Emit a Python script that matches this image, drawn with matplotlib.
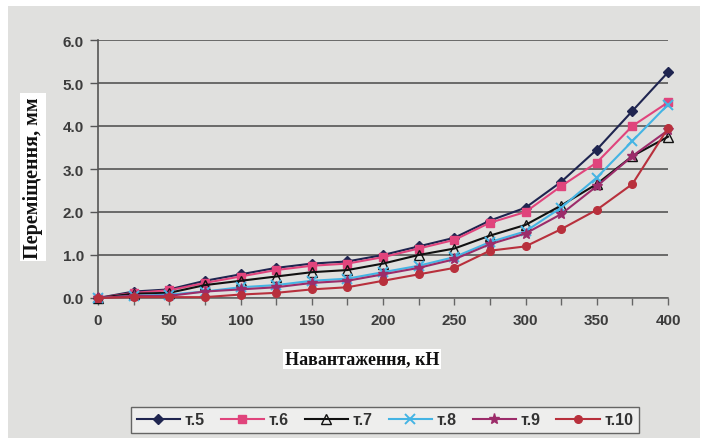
import matplotlib
matplotlib.use("Agg")
import matplotlib.pyplot as plt
from matplotlib.patches import Rectangle

# Load steps, kN
load = [0, 25, 50, 75, 100, 125, 150, 175, 200, 225, 250, 275, 300, 325, 350, 375, 400]

# Displacements at measuring points, mm
t5 = [0, 0.15, 0.20, 0.40, 0.55, 0.70, 0.80, 0.85, 1.00, 1.20, 1.40, 1.80, 2.10, 2.70, 3.45, 4.35, 5.25]
t6 = [0, 0.12, 0.18, 0.35, 0.50, 0.65, 0.75, 0.80, 0.95, 1.15, 1.35, 1.75, 2.00, 2.60, 3.15, 4.00, 4.55]
t7 = [0, 0.10, 0.12, 0.30, 0.40, 0.50, 0.60, 0.65, 0.80, 1.00, 1.15, 1.45, 1.70, 2.15, 2.65, 3.30, 3.75]
t8 = [0, 0.05, 0.08, 0.15, 0.25, 0.30, 0.40, 0.45, 0.60, 0.75, 0.95, 1.30, 1.55, 2.10, 2.80, 3.65, 4.50]
t9 = [0, 0.05, 0.05, 0.15, 0.20, 0.25, 0.35, 0.40, 0.55, 0.70, 0.90, 1.25, 1.50, 1.95, 2.60, 3.30, 3.90]
t10 = [0, 0.02, 0.02, 0.02, 0.08, 0.12, 0.20, 0.25, 0.40, 0.55, 0.70, 1.10, 1.20, 1.60, 2.05, 2.65, 3.95]

labels = ["т.5", "т.6", "т.7", "т.8", "т.9", "т.10"]
x_ticks = [0, 50, 100, 150, 200, 250, 300, 350, 400]
y_ticks = [0, 1, 2, 3, 4, 5, 6]

series = [t5, t6, t7, t8, t9, t10]
styles = [
    dict(color="#1f2550", marker="D", ms=5.5, mfc="#1f2550", mec="#1f2550"),
    dict(color="#e0447c", marker="s", ms=5.5, mfc="#e0447c", mec="#e0447c"),
    dict(color="#111111", marker="^", ms=6.5, mfc="none", mec="#111111"),
    dict(color="#44b4e4", marker="x", ms=6.5, mfc="none", mec="#44b4e4", mew=1.4),
    dict(color="#9c2c6a", marker="*", ms=8, mfc="#9c2c6a", mec="#9c2c6a"),
    dict(color="#b8303c", marker="o", ms=5.5, mfc="#b8303c", mec="#b8303c"),
]

fig = plt.figure(figsize=(7.09, 4.39), dpi=100)
fig.patch.set_facecolor("white")
# grey paper area
fig.patches.append(Rectangle((8 / 709, 0), 692 / 709, 432 / 439,
                             transform=fig.transFigure, facecolor="#e0e0de",
                             edgecolor="none", zorder=-10))

ax = fig.add_axes([98 / 709, 1 - 299 / 439, 570 / 709, 258 / 439])
ax.set_facecolor("none")

for data, lab, st in zip(series, labels, styles):
    ax.plot(load, data, lw=1.5, label=lab, **st, clip_on=False, zorder=3)

ax.set_xlim(0, 400)
ax.set_ylim(0, 6)
ax.set_xticks(x_ticks)
ax.set_xticks(range(0, 401, 25), minor=True)
ax.set_yticks(y_ticks)
ax.set_yticklabels([f"{v:.1f}" for v in y_ticks])
ax.grid(axis="y", color="#555555", lw=1.2)
ax.set_axisbelow(True)

for s in ["top", "right"]:
    ax.spines[s].set_visible(False)
ax.spines["left"].set_color("#555555")
ax.spines["left"].set_linewidth(1.2)
ax.spines["bottom"].set_color("#666666")
ax.spines["bottom"].set_linewidth(1.2)

ax.tick_params(axis="y", length=6, color="#555555", width=1.0, pad=4)
ax.tick_params(axis="x", which="both", length=5, color="#666666", width=1.0, direction="out")
ax.tick_params(axis="x", which="major", pad=6)
for lab in ax.get_xticklabels() + ax.get_yticklabels():
    lab.set_fontfamily("Liberation Sans")
    lab.set_fontweight("bold")
    lab.set_fontsize(11)
    lab.set_color("#3c3c3c")

fig.text(33 / 709, 1 - 178 / 439, "Переміщення, мм", rotation=90,
         ha="center", va="center", fontfamily="Liberation Serif",
         fontweight="bold", fontsize=14.5, color="#111111",
         bbox=dict(facecolor="white", edgecolor="none", pad=2))
fig.text(362 / 709, 1 - 360 / 439, "Навантаження, кН",
         ha="center", va="center", fontfamily="Liberation Serif",
         fontweight="bold", fontsize=13, color="#111111",
         bbox=dict(facecolor="white", edgecolor="none", pad=1))

leg = fig.legend(loc="center", bbox_to_anchor=(385 / 709, 1 - 421 / 439), ncol=6,
                 frameon=True, fancybox=False, handlelength=2.7, columnspacing=1.0,
                 handletextpad=0.3, borderpad=0.35, borderaxespad=0,
                 prop=dict(family="Liberation Sans", weight="bold", size=11.5))
leg.get_frame().set_edgecolor("#444444")
leg.get_frame().set_facecolor("#f2f2f2")
leg.get_frame().set_linewidth(1.0)
for t in leg.get_texts():
    t.set_color("#333333")

fig.savefig("out.png", dpi=100, facecolor=fig.get_facecolor())
